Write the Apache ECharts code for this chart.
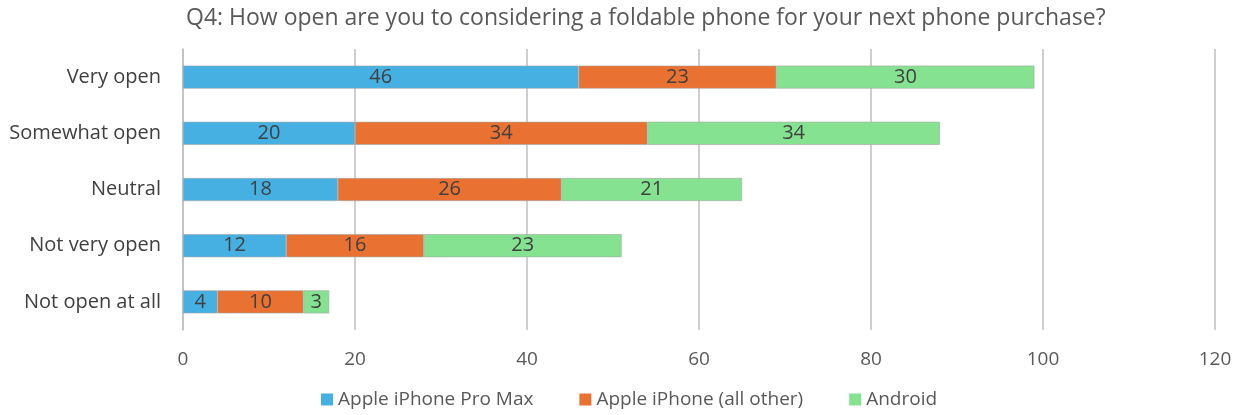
<!DOCTYPE html>
<html><head><meta charset="utf-8">
<script src="https://cdn.jsdelivr.net/npm/echarts@6/dist/echarts.min.js"></script>
<style>html,body{margin:0;padding:0;background:#fff}#c{width:1239px;height:415px}</style>
</head><body><div id="c"></div>
<script>
const categories = ["Very open","Somewhat open","Neutral","Not very open","Not open at all"];
const proMax = [46,20,18,12,4];
const iphoneOther = [23,34,26,16,10];
const android = [30,34,21,23,3];
const xTicks = [0,20,40,60,80,100,120];
const font = "'Open Sans', sans-serif";
const chart = echarts.init(document.getElementById('c'));
function s(name, data, color){
  return {name, type:'bar', stack:'t', data, barWidth:23,
    itemStyle:{color, borderColor:'#a6a6a6', borderWidth:0.6},
    label:{show:true, position:'inside', color:'#404040', fontSize:20, fontFamily:font}};
}
chart.setOption({
  animation:false,
  title:{text:'Q4: How open are you to considering a foldable phone for your next phone purchase?', left:181, top:2,
    textStyle:{fontSize:23, fontWeight:'normal', color:'#595959', fontFamily:font}},
  grid:{left:183, right:24, top:49, bottom:85},
  legend:{bottom:1, left:316, itemWidth:12, itemHeight:12, itemGap:46, icon:'rect',
    itemStyle:{borderWidth:0},
    textStyle:{fontSize:19, color:'#595959', fontFamily:font}},
  xAxis:{type:'value', min:xTicks[0], max:xTicks[xTicks.length-1], interval:20,
    axisLabel:{fontSize:19, color:'#595959', fontFamily:font, margin:20},
    splitLine:{lineStyle:{color:'#bfbfbf', width:1.5}}, axisLine:{show:false}, axisTick:{show:false}},
  yAxis:{type:'category', data:categories, inverse:true,
    axisLabel:{fontSize:20, color:'#404040', fontFamily:font, margin:22},
    axisLine:{show:true, lineStyle:{color:'#bfbfbf', width:1.5}}, axisTick:{show:false}},
  series:[s('Apple iPhone Pro Max', proMax, '#45b0e1'), s('Apple iPhone (all other)', iphoneOther, '#e97132'), s('Android', android, '#84e291')]
});
</script></body></html>
